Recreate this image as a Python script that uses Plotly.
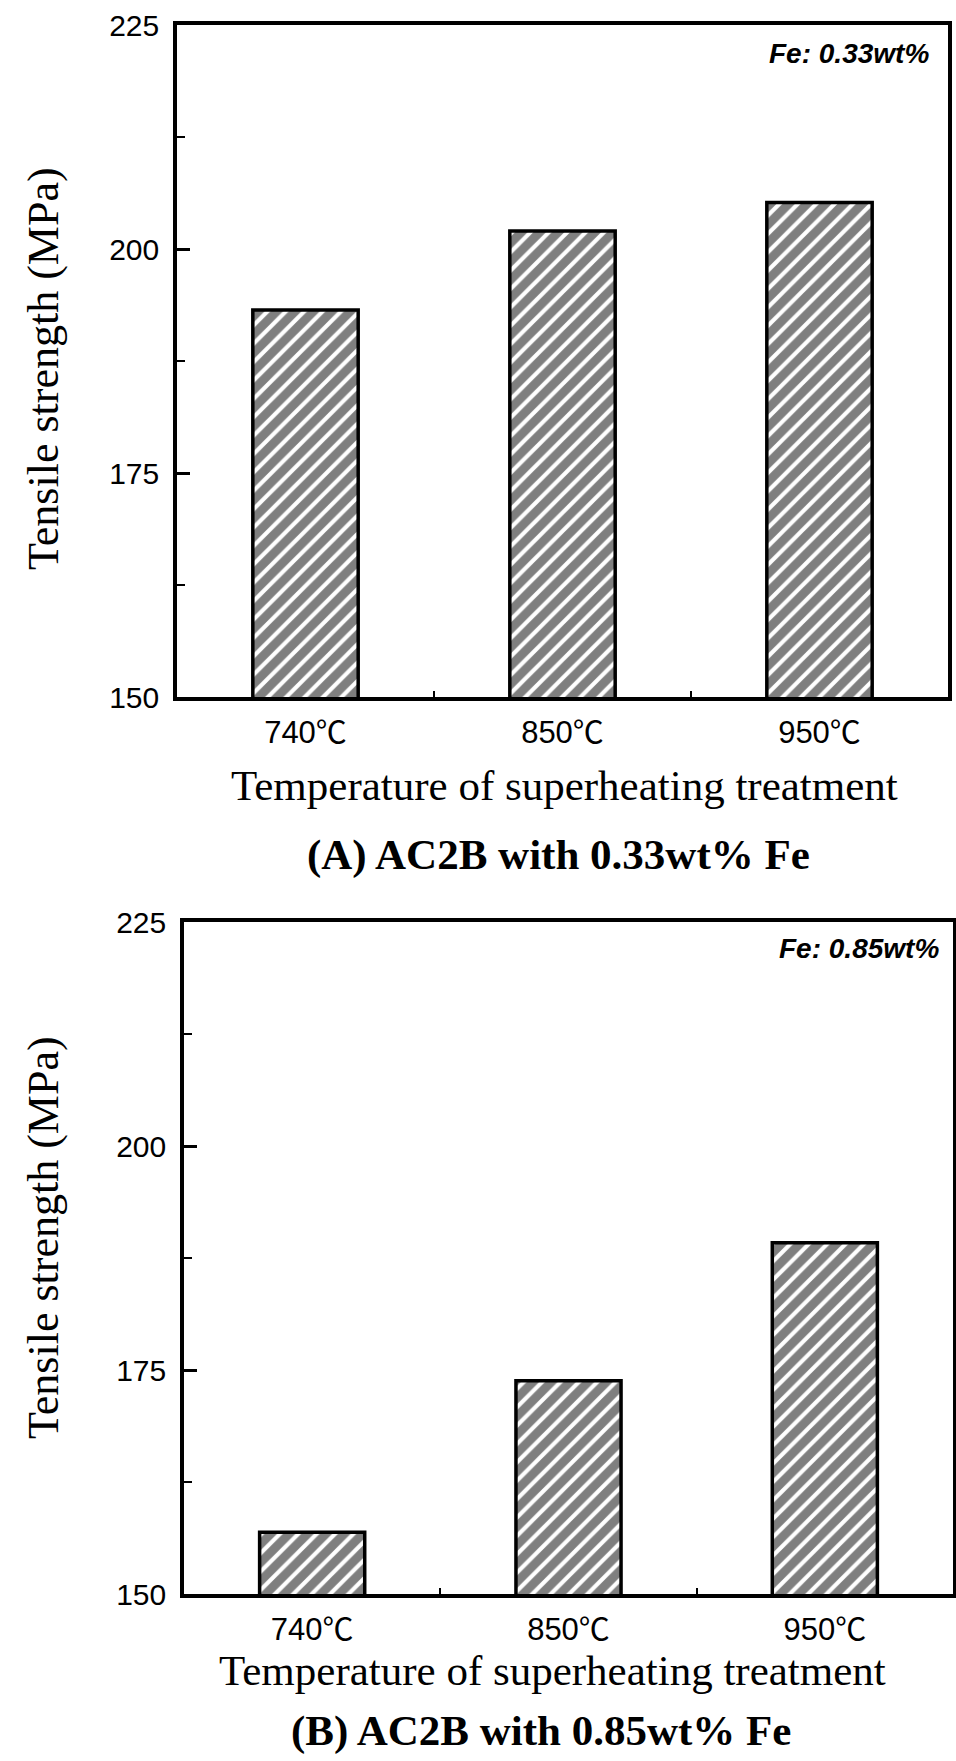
import plotly.graph_objects as go

# ---- data ----
categories = ["740℃", "850℃", "950℃"]
strength_fe033 = [193.2, 202.0, 205.2]
strength_fe085 = [156.9, 173.8, 189.2]
y_ticks = [150, 175, 200, 225]

W, H = 956, 1761

def px_x(px):
    return px / W

def px_y(py):
    return 1 - py / H

SANS = "Liberation Sans, Arial, Noto Sans CJK SC, sans-serif"
SERIF = "Liberation Serif, Times New Roman, serif"

bar_style = dict(
    color="white",
    line=dict(color="black", width=3.5),
    pattern=dict(shape="/", fgcolor="black", bgcolor="white", size=13, solidity=0.68),
)

fig = go.Figure()
fig.add_trace(go.Bar(x=categories, y=strength_fe033, width=0.41, marker=bar_style,
                     xaxis="x", yaxis="y", showlegend=False))
fig.add_trace(go.Bar(x=categories, y=strength_fe085, width=0.41, marker=bar_style,
                     xaxis="x2", yaxis="y2", showlegend=False))

def xaxis_cfg(domain, anchor):
    return dict(
        domain=domain, anchor=anchor, type="category", automargin=False,
        showline=True, linecolor="black", linewidth=3.5, mirror=True,
        showgrid=False, zeroline=False,
        ticks="inside", tickson="boundaries", ticklen=6, tickwidth=2, tickcolor="black",
        tickfont=dict(family=SANS, size=31, color="black"),
        ticklabelstandoff=5,
    )

def yaxis_cfg(domain, anchor):
    return dict(
        domain=domain, anchor=anchor, range=[150, 225], automargin=False,
        tickvals=y_ticks,
        showline=True, linecolor="black", linewidth=3.5, mirror=True,
        showgrid=False, zeroline=False,
        ticks="inside", ticklen=13, tickwidth=3, tickcolor="black",
        minor=dict(dtick=12.5, tick0=150, ticks="inside", ticklen=8, tickwidth=2, tickcolor="black"),
        tickfont=dict(family=SANS, size=30, color="black"),
        ticklabelstandoff=8,
    )

fig.update_layout(
    width=W, height=H,
    margin=dict(l=0, r=0, t=0, b=0, pad=0, autoexpand=False),
    paper_bgcolor="white", plot_bgcolor="white",
    showlegend=False,
    bargap=0.5,
    xaxis=xaxis_cfg([px_x(177), px_x(948)], "y"),
    yaxis=yaxis_cfg([px_y(697), px_y(25)], "x"),
    xaxis2=xaxis_cfg([px_x(184), px_x(953)], "y2"),
    yaxis2=yaxis_cfg([px_y(1594), px_y(922)], "x2"),
)

ann = []
# y-axis titles
for yc in (369, 1238):
    ann.append(dict(text="Tensile strength (MPa)", x=px_x(43), y=px_y(yc), xref="paper", yref="paper",
                    textangle=-90, showarrow=False, xanchor="center", yanchor="middle",
                    font=dict(family=SERIF, size=44, color="black")))
# x-axis titles
for xc, yc in ((564, 785), (552, 1670)):
    ann.append(dict(text="Temperature of superheating treatment", x=px_x(xc), y=px_y(yc),
                    xref="paper", yref="paper", showarrow=False, xanchor="center", yanchor="middle",
                    font=dict(family=SERIF, size=43, color="black")))
# panel captions
for txt, xc, yc in (("<b>(A) AC2B with 0.33wt% Fe</b>", 558, 855),
                    ("<b>(B) AC2B with 0.85wt% Fe</b>", 541, 1731)):
    ann.append(dict(text=txt, x=px_x(xc), y=px_y(yc), xref="paper", yref="paper",
                    showarrow=False, xanchor="center", yanchor="middle",
                    font=dict(family=SERIF, size=43, color="black")))
# Fe content labels
for txt, xr, yc in (("<b><i>Fe: 0.33wt%</i></b>", 931, 53),
                    ("<b><i>Fe: 0.85wt%</i></b>", 941, 948)):
    ann.append(dict(text=txt, x=px_x(xr), y=px_y(yc), xref="paper", yref="paper",
                    showarrow=False, xanchor="right", yanchor="middle",
                    font=dict(family=SANS, size=28, color="black")))

fig.update_layout(annotations=ann)
fig.write_html(
    "out.html",
    config={"displayModeBar": False},
    post_script="document.body.style.margin='0';document.body.style.overflow='hidden';",
)
